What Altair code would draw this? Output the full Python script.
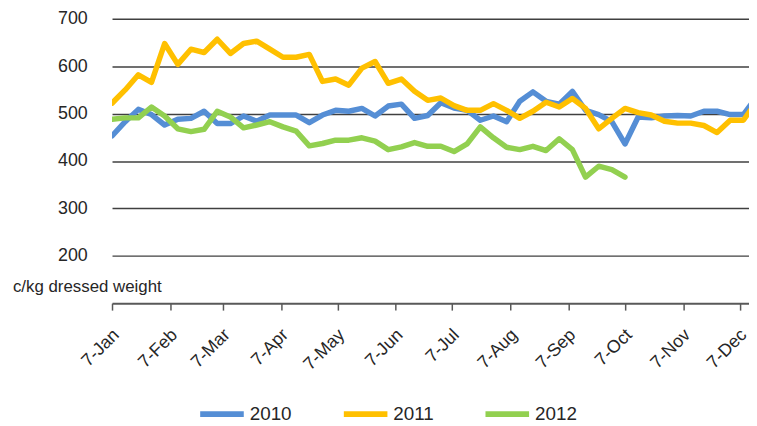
import altair as alt
import pandas as pd

years = ["2010", "2011", "2012"]
colors = ["#558ED5", "#FFC000", "#92D050"]

v2010 = [453, 483, 509, 498, 476, 488, 490, 505, 479, 479, 495, 484, 497, 497, 497, 481,
         497, 507, 505, 511, 495, 516, 520, 490, 496, 523, 512, 507, 486, 495, 483, 526,
         546, 526, 520, 547, 507, 498, 483, 436, 493, 491, 495, 496, 495, 505, 505, 498,
         498, 535]
v2011 = [522, 550, 582, 566, 648, 604, 636, 629, 657, 627, 648, 653, 636, 619, 619, 625,
         568, 573, 560, 596, 610, 564, 573, 547, 528, 533, 517, 507, 507, 521, 507, 490,
         505, 524, 514, 532, 511, 468, 490, 511, 502, 497, 484, 480, 480, 475, 460, 486,
         486, 525]
v2012 = [488, 491, 491, 514, 495, 468, 462, 467, 505, 493, 470, 476, 483, 472, 463, 432,
         437, 444, 444, 449, 442, 424, 430, 439, 431, 431, 420, 436, 472, 449, 429, 424,
         431, 422, 447, 424, 366, 389, 382, 366]

y_ticks = [200, 300, 400, 500, 600, 700]
unit_label = "c/kg dressed weight"

weeks = pd.date_range("2011-01-07", periods=50, freq="7D").strftime("%Y-%m-%d").tolist()

rows = []
for yr, vals in zip(years, [v2010, v2011, v2012]):
    for d, v in zip(weeks, vals):
        rows.append({"date": d, "value": v, "year": yr})
df = pd.DataFrame(rows)

font = "Liberation Sans"
txt = "#262626"

lines = alt.Chart(df).mark_line(strokeWidth=5.5, strokeJoin="round", strokeCap="round", clip=True).encode(
    x=alt.X("date:T",
            scale=alt.Scale(type="utc",
                            domain=[alt.DateTime(year=2011, month=1, date=7, utc=True),
                                    alt.DateTime(year=2011, month=12, date=12, utc=True)]),
            axis=alt.Axis(title=None,
                          values=[alt.DateTime(year=2011, month=m, date=7, utc=True) for m in range(1, 13)],
                          format="%-d-%b", labelAngle=-45, labelAlign="right", labelBaseline="middle",
                          labelPadding=22, labelOffset=4, labelFontSize=18, labelFont=font,
                          labelColor=txt, tickSize=7, tickColor="#595959", tickWidth=1.5,
                          domainColor="#595959", domainWidth=2, grid=False, labelOverlap=False)),
    y=alt.Y("value:Q",
            scale=alt.Scale(domain=[100, 700], nice=False, zero=False),
            axis=alt.Axis(title=None, values=y_ticks, ticks=False, tickSize=0, domain=False,
                          labelPadding=25, labelFontSize=18, labelFont=font, labelColor=txt,
                          grid=True, gridColor="#404040", gridWidth=1.5)),
    color=alt.Color("year:N",
                    scale=alt.Scale(domain=years, range=colors),
                    legend=alt.Legend(title=None, orient="none", legendX=86, legendY=374,
                                      direction="horizontal", symbolType="stroke",
                                      symbolStrokeWidth=6, symbolSize=1936, labelFontSize=19,
                                      labelFont=font, labelColor=txt, labelOffset=3,
                                      columnPadding=40)),
)

label = alt.Chart(pd.DataFrame({"t": [unit_label]})).mark_text(
    align="left", baseline="alphabetic", fontSize=17, font=font, color=txt
).encode(x=alt.value(-100), y=alt.value(276), text="t:N")

chart = alt.layer(lines, label).properties(
    width=643, height=287,
    autosize=alt.AutoSizeParams(type="none"),
    padding={"left": 105, "top": 9, "right": 0, "bottom": 120},
).configure_view(stroke=None)

chart.save("out.html", embed_options={"renderer": "svg", "actions": False})
